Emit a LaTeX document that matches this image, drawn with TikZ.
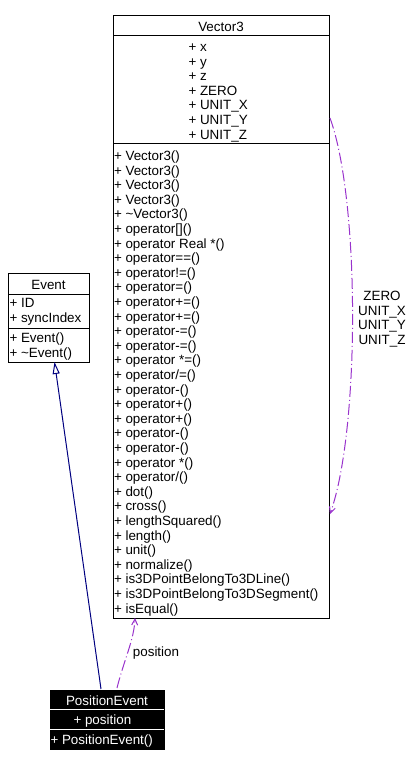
\documentclass[tikz,border=0pt]{standalone}
\usepackage{fontspec}
\setmainfont{Liberation Sans}
\usetikzlibrary{arrows.meta}
\definecolor{umlnavy}{RGB}{0,0,128}
\definecolor{umlpurple}{RGB}{153,51,204}
\begin{document}
\begin{tikzpicture}[x=1pt, y=-1pt, line width=1pt,
  font=\fontsize{13.4}{14.6}\selectfont,
  member/.style={anchor=base west, inner sep=0pt},
  classtitle/.style={anchor=base, inner sep=0pt},
  classbox/.style={draw, anchor=north west, inner sep=0pt},
  assoc/.style={umlpurple, dash pattern=on 11pt off 3pt on 1pt off 3pt,
    -{Straight Barb[length=6pt, width=6pt]}},
  inherit/.style={umlnavy, -{Triangle[open, length=12pt, width=7pt]}}]
  \useasboundingbox (0,0) rectangle (416,766);
  % --- Vector3 ---
  \node[classbox, minimum width=216, minimum height=603] (vector3) at (113,15) {};
  \draw (113,35) -- (329,35);
  \draw (113,143) -- (329,143);
  \node[classtitle] (vectitle) at (221,31.5) {Vector3};
  \foreach \a [count=\i from 0] in {x,y,z,ZERO,UNIT\_X,UNIT\_Y,UNIT\_Z}
    \node[member] (vecattr\i) at (188,51.5+14.6*\i) {+ \a};
  \foreach \m [count=\i from 0] in {Vector3(),Vector3(),Vector3(),Vector3(),
      \textasciitilde Vector3(),{operator[]()},operator Real *(),operator==(),
      operator!=(),operator=(),operator+=(),operator+=(),operator-=(),
      operator-=(),operator *=(),operator/=(),operator-(),operator+(),
      operator+(),operator-(),operator-(),operator *(),operator/(),dot(),
      cross(),lengthSquared(),length(),unit(),normalize(),
      is3DPointBelongTo3DLine(),is3DPointBelongTo3DSegment(),isEqual()}
    \node[member] (vecop\i) at (113.5,160.5+14.6*\i) {+ \m};
  % --- Event ---
  \node[classbox, minimum width=81, minimum height=89] (event) at (8,273) {};
  \draw (8,294) -- (89,294);
  \draw (8,328) -- (89,328);
  \node[classtitle] (evtitle) at (48.5,289.5) {Event};
  \node[member] (evid) at (9,307.5) {+ ID};
  \node[member] (evsync) at (9,322) {+ syncIndex};
  \node[member] (evctor) at (9,342.5) {+ Event()};
  \node[member] (evdtor) at (9,357) {+ \textasciitilde Event()};
  % --- PositionEvent ---
  \node[classbox, fill=black, minimum width=114, minimum height=59] (posevent) at (50,690) {};
  \draw[white] (50,709) -- (164,709);
  \draw[white] (50,729) -- (164,729);
  \node[classtitle, text=white] (petitle) at (107,705) {PositionEvent};
  \node[member, text=white] (pepos) at (73,724) {+ position};
  \node[member, text=white] (pector) at (50,744) {+ PositionEvent()};
  % --- connectors ---
  \coordinate (peinh) at (101,689);
  \coordinate (evbot) at (54.5,362);
  \coordinate (peassoc) at (117,688);
  \coordinate (vecbot) at (135,618);
  \coordinate (vecout) at (330,118);
  \coordinate (vecin) at (330,514);
  \draw[inherit] (peinh) -- (evbot);
  \draw[assoc] (peassoc) .. controls (124,660) and (134,640) .. (vecbot);
  \node (poslbl) at (156,653) {position};
  \draw[assoc] (vecout) .. controls (360,200) and (360,430) .. (vecin);
  \node[align=center] (constlbl) at (382,319) {ZERO\\UNIT\_X\\UNIT\_Y\\UNIT\_Z};
\end{tikzpicture}
\end{document}
